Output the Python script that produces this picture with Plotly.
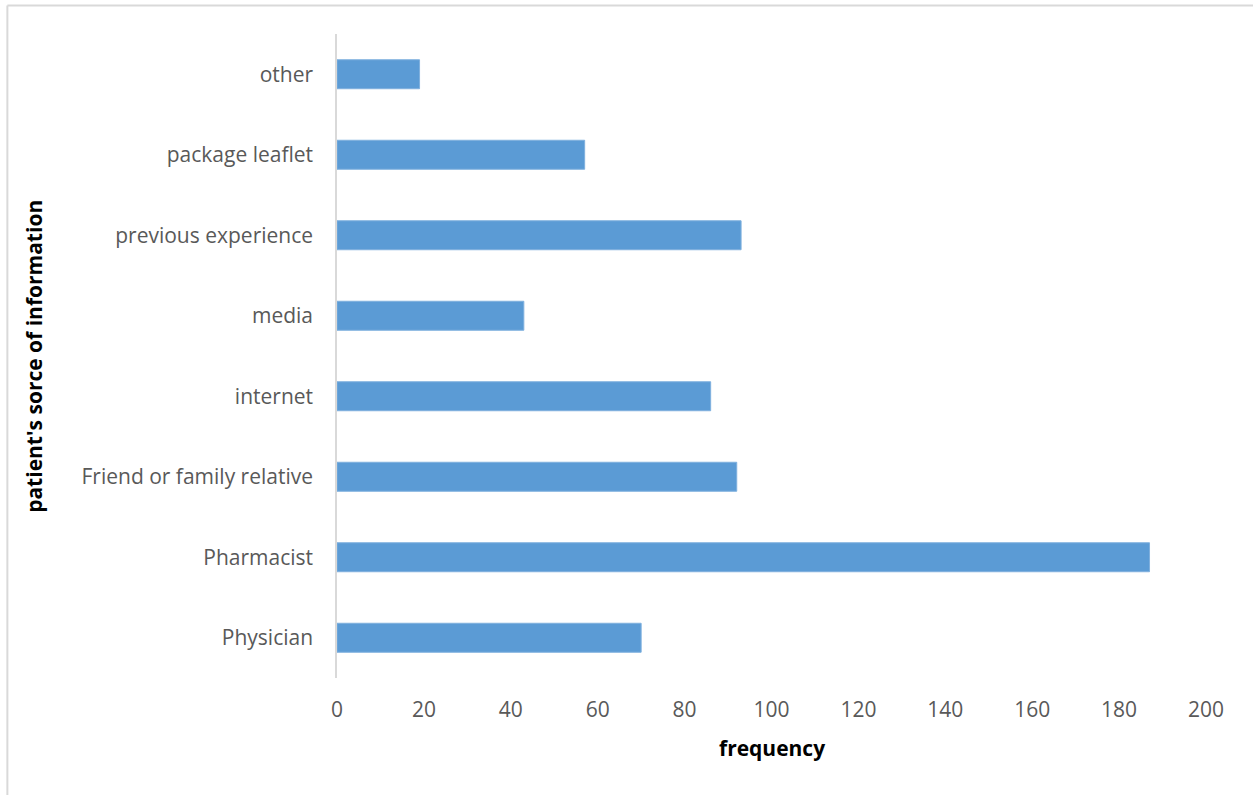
import plotly.graph_objects as go

# Patient information sources and their frequencies
categories = ["Physician", "Pharmacist", "Friend or family relative", "internet",
              "media", "previous experience", "package leaflet", "other"]
frequency = [70, 187, 92, 86, 43, 93, 57, 19]
x_ticks = [0, 20, 40, 60, 80, 100, 120, 140, 160, 180, 200]

W, H = 1253, 795
L, R, T, B = 336.5, 46.5, 34, 117
pw, ph = W - L - R, H - T - B

FONT = "Open Sans"

fig = go.Figure(go.Bar(
    x=frequency, y=categories, orientation="h",
    width=0.36,
    marker=dict(color="#5B9BD5", line=dict(color="#7FB0DE", width=1)),
))

# outer frame (left and top edges)
px = lambda v: (v - L) / pw
py = lambda v: (H - B - v) / ph
fig.add_shape(type="line", xref="paper", yref="paper",
              x0=px(6.5), y0=py(5.5), x1=px(W + 5), y1=py(5.5),
              line=dict(color="#D9D9D9", width=2))
fig.add_shape(type="line", xref="paper", yref="paper",
              x0=px(6.5), y0=py(5.5), x1=px(6.5), y1=py(H + 5),
              line=dict(color="#D9D9D9", width=2))

fig.add_annotation(text="<b>frequency</b>", xref="paper", yref="paper",
                   x=0.5, y=py(748), xanchor="center", yanchor="middle",
                   showarrow=False, font=dict(family=FONT, size=21, color="#000000"))
fig.add_annotation(text="<b>patient's sorce of information</b>", xref="paper", yref="paper",
                   x=px(33), y=0.5, xanchor="center", yanchor="middle", textangle=-90,
                   showarrow=False, font=dict(family=FONT, size=21, color="#000000"))

fig.update_layout(
    width=W, height=H,
    margin=dict(l=L, r=R, t=T, b=B, autoexpand=False),
    paper_bgcolor="white", plot_bgcolor="white",
    showlegend=False,
    font=dict(family=FONT, size=21, color="#595959"),
    xaxis=dict(range=[0, 200], tickvals=x_ticks, showgrid=False, zeroline=False,
               showline=False, ticks="outside", ticklen=13, tickcolor="rgba(0,0,0,0)",
               tickfont=dict(family=FONT, size=21, color="#595959")),
    yaxis=dict(categoryorder="array", categoryarray=categories, range=[-0.5, 7.5],
               showgrid=False, zeroline=False, showline=True, linecolor="#D9D9D9",
               linewidth=1.5, ticks="outside", ticklen=18, tickcolor="rgba(0,0,0,0)",
               tickfont=dict(family=FONT, size=21, color="#595959")),
)

fig.write_html("out.html")
